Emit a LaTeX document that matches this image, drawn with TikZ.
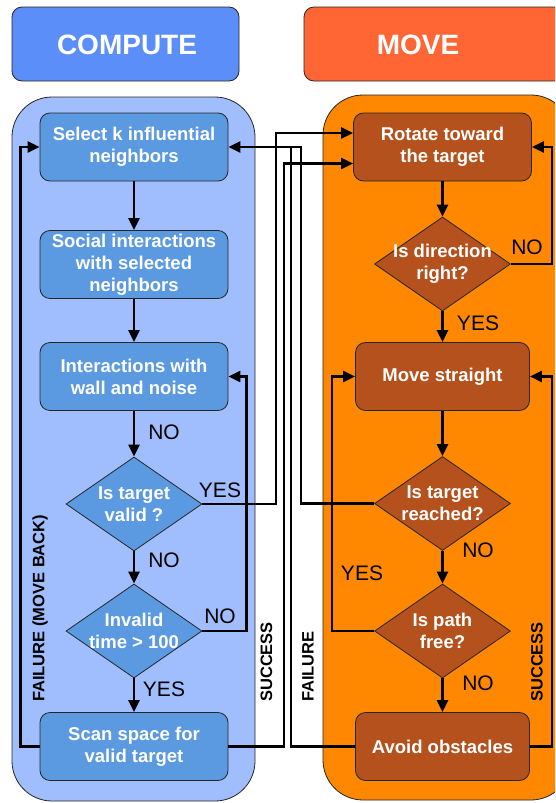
\documentclass[tikz,border=0pt]{standalone}
\usepackage{fontspec}
\setmainfont{Liberation Sans}
\usetikzlibrary{shapes.geometric,arrows.meta}
\definecolor{hdrblue}{HTML}{5B8EF9}
\definecolor{hdrorange}{HTML}{FF6633}
\definecolor{laneblue}{HTML}{A0BEFE}
\definecolor{laneorange}{HTML}{FF8800}
\definecolor{nodeblue}{HTML}{5B9AE0}
\definecolor{nodebrown}{HTML}{B4511C}
\begin{document}
\begin{tikzpicture}[x=1pt,y=-1pt,
  nfont/.style={font=\fontsize{18.5}{22}\selectfont\bfseries},
  proc/.style={nfont, draw=black!85, line width=0.8pt, rounded corners=10pt,
    minimum width=188pt, minimum height=68pt, text=white, align=center, inner sep=2pt},
  cproc/.style={proc, fill=nodeblue},
  mproc/.style={proc, fill=nodebrown, minimum width=174pt},
  dec/.style={nfont, diamond, aspect=1.45, draw=black!85, line width=0.8pt, minimum width=136pt,
    minimum height=94pt, inner sep=-8pt, text=white, align=center},
  cdec/.style={dec, fill=nodeblue},
  mdec/.style={dec, fill=nodebrown},
  arr/.style={line width=2.4pt, -{Triangle[length=12pt,width=11pt]}},
  wire/.style={line width=2.4pt},
  lbl/.style={font=\fontsize{21}{24}\selectfont, inner sep=0pt},
  vlbl/.style={font=\fontsize{16.5}{20}\selectfont\bfseries, rotate=90, anchor=west, inner sep=0pt},
  hdrbox/.style={draw=black!85, line width=0.8pt, rounded corners=10pt},
  hdrtext/.style={font=\fontsize{28}{32}\selectfont\bfseries, text=white, inner sep=0pt},
  lane/.style={draw=black!85, line width=0.8pt, rounded corners=40pt}
]
\path[use as bounding box] (0,0) rectangle (555,803);
\clip (0,0) rectangle (555,803);
% headers
\draw[hdrbox, fill=hdrblue] (12,7) rectangle (239,81);
\node[hdrtext] (hc) at (127,45) {COMPUTE};
\draw[hdrbox, fill=hdrorange] (304,7) rectangle (580,81);
\node[hdrtext] (hm) at (418,45) {MOVE};
% lanes
\draw[lane, fill=laneblue] (12,97) rectangle (255,801);
\draw[lane, fill=laneorange] (323,95) rectangle (571,800);
% compute nodes
\node[cproc] (sel) at (134,147) {Select k influential\\neighbors};
\node[cproc] (soc) at (134,264.5) {Social interactions\\with selected\\neighbors};
\node[cproc] (inter) at (134,376.5) {Interactions with\\wall and noise};
\node[cdec] (valid) at (134,504) {Is target\\valid ?};
\node[cdec] (inval) at (134,631) {Invalid\\time > 100};
\node[cproc] (scan) at (134,746.5) {Scan space for\\valid target};
% move nodes
\node[mproc, minimum width=178pt] (rot) at (442.5,147) {Rotate toward\\the target};
\node[mdec] (dir) at (442.5,264) {Is direction\\right?};
\node[mproc] (mov) at (442.5,376.5) {Move straight};
\node[mdec] (reach) at (442.5,503.5) {Is target\\reached?};
\node[mdec] (free) at (442.5,631) {Is path\\free?};
\node[mproc] (avoid) at (442.5,746.5) {Avoid obstacles};
% bus coordinates
\coordinate (bL) at (20.5,0);
\coordinate (bI) at (246.5,0);
\coordinate (b1) at (276,0);
\coordinate (b2) at (284,0);
\coordinate (b3) at (291,0);
\coordinate (b4) at (301,0);
\coordinate (bM) at (332,0);
\coordinate (bR) at (552,0);
% vertical flow
\draw[arr] (sel) -- (soc);
\draw[arr] (soc) -- (inter);
\draw[arr] (inter) -- (valid);
\draw[arr] (valid) -- (inval);
\draw[arr] (inval) -- (scan);
\draw[arr] (rot) -- (dir);
\draw[arr] (dir) -- (mov);
\draw[arr] (mov) -- (reach);
\draw[arr] (reach) -- (free);
\draw[arr] (free) -- (avoid);
% loops
\draw[arr] (scan.west) -- (scan.west -| bL) |- (sel.west);
\draw[arr] (inval.east) -- (inval.east -| bI) |- (inter.east);
\draw[arr] (valid.east) -- (valid.east -| b1) |- ([yshift=14pt]rot.west);
\draw[arr] (scan.east) -- (scan.east -| b2) |- ([yshift=-16.5pt]rot.west);
\draw[arr] (reach.west) -- (reach.west -| b4) |- (sel.east);
\draw[wire] (avoid.west) -| (b3 |- sel.east);
\draw[arr] (dir.east) -- (dir.east -| bR) |- (rot.east);
\draw[arr] (avoid.east) -- (avoid.east -| bR) |- (mov.east);
\draw[arr] (free.west) -- (free.west -| bM) |- (mov.west);
% labels
\node[lbl] (l1) at (164,432) {NO};
\node[lbl] (l2) at (220,490) {YES};
\node[lbl] (l3) at (164,560) {NO};
\node[lbl] (l4) at (220,616) {NO};
\node[lbl] (l5) at (164,689) {YES};
\node[lbl] (l6) at (527,247) {NO};
\node[lbl] (l7) at (478,323) {YES};
\node[lbl] (l8) at (478,550) {NO};
\node[lbl] (l9) at (362,573) {YES};
\node[lbl] (l10) at (478,683) {NO};
\node[vlbl] (v1) at (40,702) {FAILURE (MOVE BACK)};
\node[vlbl] (v2) at (266.5,702) {SUCCESS};
\node[vlbl] (v3) at (308,702) {FAILURE};
\node[vlbl] (v4) at (537,702) {SUCCESS};
\end{tikzpicture}
\end{document}
